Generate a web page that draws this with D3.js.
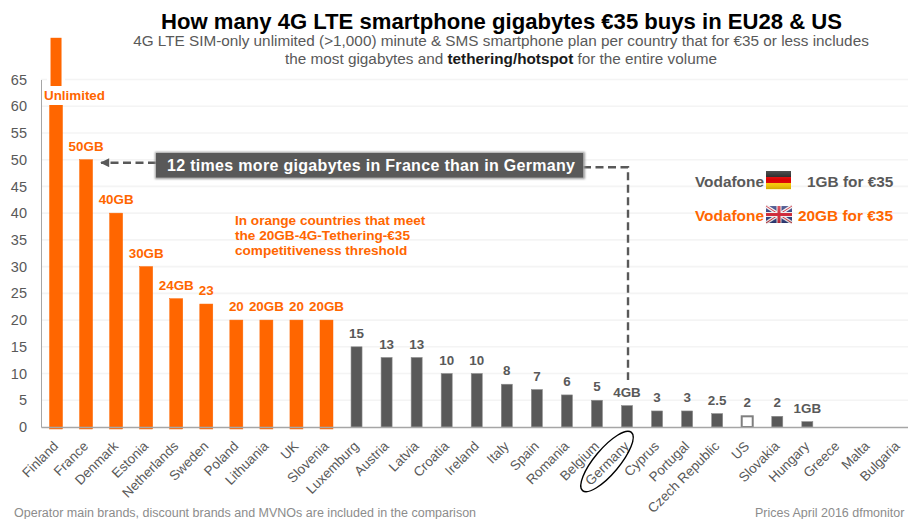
<!DOCTYPE html>
<html>
<head>
<meta charset="utf-8">
<script src="https://cdn.jsdelivr.net/npm/d3@7"></script>
<style>
  html, body { margin: 0; padding: 0; background: #fff; overflow: hidden; }
  text { font-family: "Liberation Sans", Arial, sans-serif; }
</style>
</head>
<body>
<div id="viz"></div>
<script>

const countries = ["Finland", "France", "Denmark", "Estonia", "Netherlands", "Sweden", "Poland", "Lithuania", "UK", "Slovenia", "Luxemburg", "Austria", "Latvia", "Croatia", "Ireland", "Italy", "Spain", "Romania", "Belgium", "Germany", "Cyprus", "Portugal", "Czech Republic", "US", "Slovakia", "Hungary", "Greece", "Malta", "Bulgaria"]
const gigabytes = [72.8, 50, 40, 30, 24, 23, 20, 20, 20, 20, 15, 13, 13, 10, 10, 8, 7, 6, 5, 4, 3, 3, 2.5, 2, 2, 1, 0, 0, 0]
const valueLabels = ["Unlimited", "50GB", "40GB", "30GB", "24GB", "23", "20", "20GB", "20", "20GB", "15", "13", "13", "10", "10", "8", "7", "6", "5", "4GB", "3", "3", "2.5", "2", "2", "1GB", "", "", ""]
const yTicks = [0, 5, 10, 15, 20, 25, 30, 35, 40, 45, 50, 55, 60, 65]
const subtitleFirst = "4G LTE SIM-only unlimited (>1,000) minute & SMS smartphone plan per country that for €35 or less includes"
const noteLines = ["In orange countries that meet", "the 20GB-4G-Tethering-€35", "competitiveness threshold"]

const width = 908
const height = 519
const orange = "#ff6600"
const dark = "#595959"
const orangeCount = 10

const svg = d3.select("#viz").append("svg")
  .attr("width", width)
  .attr("height", height)
  .style("display", "block")

const defs = svg.append("defs")
defs.append("filter").attr("id", "glow")
  .attr("x", "-5%").attr("y", "-30%").attr("width", "110%").attr("height", "160%")
  .append("feGaussianBlur").attr("stdDeviation", 1.2)
const sheen = defs.append("linearGradient").attr("id", "sheen").attr("x1", 0).attr("x2", 0).attr("y1", 0).attr("y2", 1)
sheen.append("stop").attr("offset", 0).attr("stop-color", "#fff").attr("stop-opacity", 0.22)
sheen.append("stop").attr("offset", 0.5).attr("stop-color", "#fff").attr("stop-opacity", 0)
sheen.append("stop").attr("offset", 1).attr("stop-color", "#000").attr("stop-opacity", 0.18)
defs.append("marker").attr("id", "head")
  .attr("viewBox", "0 0 10 10").attr("refX", 9).attr("refY", 5)
  .attr("markerUnits", "userSpaceOnUse")
  .attr("markerWidth", 10).attr("markerHeight", 9).attr("orient", "auto")
  .append("path").attr("d", "M0,0L10,5L0,10Z").attr("fill", dark)

const x = d3.scaleBand().domain(countries).range([41, 912.5])
const y = d3.scaleLinear().domain([0, 65]).range([427, 79.5])

// gridlines
svg.append("g").selectAll("line")
  .data(yTicks.slice(1))
  .enter()
  .append("line")
  .attr("x1", 41).attr("x2", width)
  .attr("y1", d => y(d)).attr("y2", d => y(d))
  .attr("stroke", "#f4f4f4").attr("stroke-width", 1.6)

// y axis
const yAxis = svg.append("g")
  .attr("transform", "translate(41,0)")
  .call(d3.axisLeft(y).tickValues(yTicks).tickSize(0).tickPadding(14))
yAxis.select(".domain").attr("stroke", "#a6a6a6").attr("stroke-width", 1)
yAxis.selectAll("text")
  .attr("fill", dark).style("font-size", "14.5px")
  .style("font-family", "'Liberation Sans', Arial, sans-serif")

// bars
const isOrange = i => i < orangeCount
svg.append("g").selectAll("rect")
  .data(gigabytes)
  .enter()
  .append("rect")
  .attr("x", (d, i) => x(countries[i]) + x.bandwidth() / 2 - (isOrange(i) ? 6.5 : 5.5))
  .attr("width", (d, i) => isOrange(i) ? 13 : 11)
  .attr("y", d => y(d))
  .attr("height", (d, i) => y(0) - y(d) + (isOrange(i) ? 2 : 0))
  .attr("fill", (d, i) => countries[i] == "US" ? "#fff" : (isOrange(i) ? orange : dark))
  .attr("stroke", (d, i) => countries[i] == "US" ? "#7f7f7f" : (isOrange(i) ? orange : "#8c8c8c"))
  .attr("stroke-width", (d, i) => countries[i] == "US" ? 2 : (isOrange(i) ? 0.5 : 0.6))
  .style("display", d => d == 0 ? "none" : null)

// break in the Finland bar, under the Unlimited label
const finlandX = x("Finland") + x.bandwidth() / 2
svg.append("rect")
  .attr("x", finlandX - 9).attr("width", 18)
  .attr("y", 36).attr("height", 69)
  .attr("fill", "#fff")
svg.append("rect")
  .attr("x", finlandX - 5.5).attr("width", 11)
  .attr("y", y(72.8)).attr("height", 86 - y(72.8))
  .attr("fill", orange)

// x axis
const xAxis = svg.append("g")
  .attr("transform", "translate(0,427)")
  .call(d3.axisBottom(x).tickSize(0).tickPadding(0))
xAxis.select(".domain").attr("stroke", "#a6a6a6").attr("stroke-width", 1.4)
xAxis.selectAll("text")
  .attr("fill", dark)
  .style("font-size", "13.5px")
  .style("font-family", "'Liberation Sans', Arial, sans-serif")
  .attr("text-anchor", "end")
  .attr("dy", 0)
  .attr("y", 0)
  .attr("transform", "translate(3,20) rotate(-45)")

// value labels
svg.append("g").selectAll("text")
  .data(valueLabels)
  .enter()
  .append("text")
  .attr("x", (d, i) => i == 0 ? 74.5 : x(countries[i]) + x.bandwidth() / 2)
  .attr("y", (d, i) => i == 0 ? 100 : y(gigabytes[i]) - 9)
  .attr("text-anchor", "middle")
  .attr("font-weight", "bold")
  .attr("font-size", 13.4)
  .attr("fill", (d, i) => isOrange(i) ? orange : dark)
  .text(d => d)

// title block
svg.append("text")
  .attr("x", 501.5).attr("y", 28.5)
  .attr("text-anchor", "middle")
  .attr("font-weight", "bold").attr("font-size", 22.1).attr("fill", "#000")
  .text("How many 4G LTE smartphone gigabytes €35 buys in EU28 & US")
svg.append("text")
  .attr("x", 501).attr("y", 45.5)
  .attr("text-anchor", "middle")
  .attr("font-size", 15.3).attr("fill", dark)
  .text(subtitleFirst)
const sub2 = svg.append("text")
  .attr("x", 501).attr("y", 63.5)
  .attr("text-anchor", "middle")
  .attr("font-size", 15.3).attr("fill", dark)
sub2.append("tspan").text("the most gigabytes and ")
sub2.append("tspan").attr("font-weight", "bold").attr("fill", "#1a1a1a").text("tethering/hotspot")
sub2.append("tspan").text(" for the entire volume")

// dashed connector, France to Germany
const connector = svg.append("g")
const gx = x("Germany") + x.bandwidth() / 2 + 1
const fx = x("France") + x.bandwidth() / 2
connector.append("path")
  .attr("d", d3.line()([[583, y(48.6)], [gx, y(48.6)], [gx, y(8.8)]]))
  .attr("fill", "none").attr("stroke", dark)
  .attr("stroke-width", 2.4).attr("stroke-dasharray", "8 4.5")
connector.append("path")
  .attr("d", d3.line()([[156, y(50) + 3], [fx + 15, y(50) + 3]]))
  .attr("fill", "none").attr("stroke", dark)
  .attr("stroke-width", 2.4).attr("stroke-dasharray", "8 4.5")
  .attr("marker-end", "url(#head)")

// callout box
svg.append("rect")
  .attr("x", 155).attr("y", 152).attr("width", 430).attr("height", 27)
  .attr("fill", "#999").attr("filter", "url(#glow)")
svg.append("rect")
  .attr("x", 156).attr("y", 153).attr("width", 427).attr("height", 24.5)
  .attr("fill", dark)
svg.append("text")
  .attr("x", 371).attr("y", 171)
  .attr("text-anchor", "middle")
  .attr("font-weight", "bold").attr("font-size", 16).attr("fill", "#fff")
  .attr("textLength", 408).attr("lengthAdjust", "spacing")
  .text("12 times more gigabytes in France than in Germany")

// orange note
svg.append("g").selectAll("text")
  .data(noteLines)
  .enter()
  .append("text")
  .attr("x", 235)
  .attr("y", (d, i) => 225 + i * 15.2)
  .attr("font-weight", "bold").attr("font-size", 13.6).attr("fill", orange)
  .text(d => d)

// Vodafone comparison
const vodafoneRows = [
  { label: "Vodafone", price: "1GB for €35", color: dark, y: 187, px: 807 },
  { label: "Vodafone", price: "20GB for €35", color: orange, y: 221, px: 798 }
]
svg.append("g").selectAll("text")
  .data(vodafoneRows)
  .enter()
  .append("text")
  .attr("x", 695).attr("y", d => d.y)
  .attr("font-weight", "bold").attr("font-size", 15.4).attr("fill", d => d.color)
  .text(d => d.label)
svg.append("g").selectAll("text")
  .data(vodafoneRows)
  .enter()
  .append("text")
  .attr("x", d => d.px).attr("y", d => d.y)
  .attr("font-weight", "bold").attr("font-size", 15.4).attr("fill", d => d.color)
  .text(d => d.price)

// flags
const de = svg.append("g").attr("transform", "translate(766,171)")
const deColors = ["#1f1f1f", "#dd0000", "#ffce00"]
de.selectAll("rect").data(deColors).enter().append("rect")
  .attr("x", 0).attr("width", 25)
  .attr("y", (d, i) => i * 6).attr("height", 6.2)
  .attr("fill", d => d)
de.append("rect").attr("width", 25).attr("height", 18).attr("fill", "url(#sheen)")

const uk = svg.append("g").attr("transform", "translate(766,206)")
uk.append("rect").attr("width", 26).attr("height", 17).attr("fill", "#2f3c7e")
uk.append("path").attr("d", "M0,0L26,17M26,0L0,17").attr("stroke", "#eee").attr("stroke-width", 3.4)
uk.append("path").attr("d", "M0,0L26,17M26,0L0,17").attr("stroke", "#cf2a3a").attr("stroke-width", 1)
uk.append("path").attr("d", "M13,0V17M0,8.5H26").attr("stroke", "#eee").attr("stroke-width", 5)
uk.append("path").attr("d", "M13,0V17M0,8.5H26").attr("stroke", "#cf2a3a").attr("stroke-width", 3)
uk.append("rect").attr("width", 26).attr("height", 17).attr("fill", "url(#sheen)")

// Germany circled
svg.append("ellipse")
  .attr("cx", 607).attr("cy", 461.5)
  .attr("rx", 38).attr("ry", 12.5)
  .attr("transform", "rotate(-50 607 461.5)")
  .attr("fill", "none").attr("stroke", "#000").attr("stroke-width", 1.4)

// footer
svg.append("text")
  .attr("x", 14).attr("y", 517)
  .attr("font-size", 12.5).attr("fill", "#8c8c8c")
  .text("Operator main brands, discount brands and MVNOs are included in the comparison")
svg.append("text")
  .attr("x", 755).attr("y", 517)
  .attr("font-size", 12.5).attr("fill", "#8c8c8c")
  .text("Prices April 2016 dfmonitor")

</script>
</body>
</html>
